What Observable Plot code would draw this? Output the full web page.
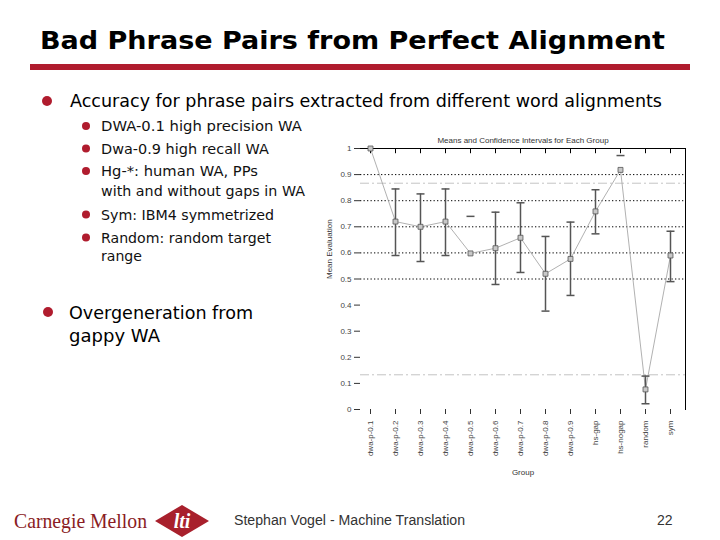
<!DOCTYPE html>
<html>
<head>
<meta charset="utf-8">
<script src="https://cdn.jsdelivr.net/npm/d3@7"></script>
<script src="https://cdn.jsdelivr.net/npm/@observablehq/plot@0.6"></script>
<style>
  html, body { margin: 0; padding: 0; background: #fff; }
  #slide { position: relative; width: 720px; height: 540px; overflow: hidden; background: #fff; }
  #deco { position: absolute; left: 0; top: 0; }
  #chart { position: absolute; left: 320px; top: 125px; }
</style>
</head>
<body>
<div id="slide">
  <svg id="deco" width="720" height="540"></svg>
  <div id="chart"></div>
</div>
<script>
// ---- data ----
const cats = ["dwa-p-0.1","dwa-p-0.2","dwa-p-0.3","dwa-p-0.4","dwa-p-0.5","dwa-p-0.6","dwa-p-0.7","dwa-p-0.8","dwa-p-0.9","hs-gap","hs-nogap","random","sym"];
const means = [1.0, 0.72, 0.70, 0.72, 0.598, 0.618, 0.658, 0.52, 0.577, 0.759, 0.918, 0.077, 0.59];
const hiVals = [null, 0.845, 0.826, 0.845, 0.74, 0.756, 0.792, 0.663, 0.718, 0.842, 0.973, 0.128, 0.683];
const loVals = [null, 0.59, 0.567, 0.59, null, 0.479, 0.525, 0.377, 0.437, 0.673, null, 0.022, 0.49];
const yTicks = [0, 0.1, 0.2, 0.3, 0.4, 0.5, 0.6, 0.7, 0.8, 0.9, 1];
const gridVals = [0.5, 0.6, 0.7, 0.8, 0.9];
const refLines = [0.867, 0.133];
const chartTitle = "Means and Confidence Intervals for Each Group";
const yLabel = "Mean Evaluation";
const xLabel = "Group";

const slideTitle = "Bad Phrase Pairs from Perfect Alignment";
const mainBullets = ["Accuracy for phrase pairs extracted from different word alignments"];
const subBullets = [
  ["DWA-0.1  high precision WA"],
  ["Dwa-0.9 high recall WA"],
  ["Hg-*: human WA, PPs", "with and without gaps in WA"],
  ["Sym: IBM4 symmetrized"],
  ["Random: random target", "range"]
];
const lowerBullet = ["Overgeneration  from", "gappy WA"];
const footerText = "Stephan Vogel - Machine Translation";
const pageNum = "22";

// ---- chart ----
const data = cats.map((c, i) => ({cat: c, mean: means[i], hi: hiVals[i], lo: loVals[i]}));
const fmt = d => (d === 0 ? "0" : d === 1 ? "1" : d.toFixed(1));
// horizontal cap symbol for error bars
const capSymbol = {draw(ctx, size) { const w = Math.sqrt(size / Math.PI); ctx.moveTo(-w, 0); ctx.lineTo(w, 0); }};

const chart = Plot.plot({
  width: 370,
  height: 360,
  marginTop: 23,
  marginBottom: 76,
  marginLeft: 40,
  marginRight: 5,
  style: {fontFamily: "Liberation Sans, Arial, sans-serif", background: "transparent", color: "#333"},
  x: {type: "point", domain: cats, range: [47, 352], padding: 0},
  y: {domain: [0, 1]},
  marks: [
    Plot.ruleY(gridVals, {stroke: "#000", strokeDasharray: "1.3,2.2", strokeWidth: 1}),
    Plot.ruleY(refLines, {stroke: "#c4c4c4", strokeDasharray: "9,3,2,3", strokeWidth: 1}),
    Plot.ruleY([1], {stroke: "#000", strokeWidth: 1}),
    Plot.frame({anchor: "right", stroke: "#000"}),
    Plot.ruleX(cats, {x: d => d, y1: 1, y2: 0.98, stroke: "#000"}),
    Plot.axisY({ticks: yTicks, tickFormat: fmt, tickSize: 6, tickPadding: 3, fontSize: 8, fill: "#444", label: null}),
    Plot.axisX({tickRotate: -90, tickSize: 5, tickPadding: 6, fontSize: 8, fill: "#444", label: null}),
    Plot.line(data, {x: "cat", y: "mean", stroke: "#a8a8a8", strokeWidth: 0.9}),
    Plot.ruleX(data.filter(d => d.lo != null && d.hi != null), {x: "cat", y1: "lo", y2: "hi", stroke: "#555", strokeWidth: 1.5}),
    Plot.dot(data.filter(d => d.hi != null), {x: "cat", y: "hi", symbol: capSymbol, r: 4, stroke: "#555", strokeWidth: 1.5, fill: "none"}),
    Plot.dot(data.filter(d => d.lo != null), {x: "cat", y: "lo", symbol: capSymbol, r: 4, stroke: "#555", strokeWidth: 1.5, fill: "none"}),
    Plot.dot(data, {x: "cat", y: "mean", symbol: "square", r: 2.8, fill: "#c8c8c8", stroke: "#555", strokeWidth: 0.8}),
    Plot.text([chartTitle], {frameAnchor: "top", dy: -11, fontSize: 8, fill: "#333"}),
    Plot.text([yLabel], {frameAnchor: "left", dx: -31, rotate: -90, fontSize: 8, fill: "#333"}),
    Plot.text([xLabel], {frameAnchor: "bottom", dy: 65, fontSize: 8, fill: "#333"})
  ]
});
document.getElementById("chart").appendChild(chart);

// ---- slide decoration (text and logo) ----
const deco = d3.select("#deco");
deco.append("text").attr("x", 40).attr("y", 49)
  .attr("font-family", "DejaVu Sans, sans-serif").attr("font-weight", "bold").attr("font-size", 25)
  .attr("textLength", 625).attr("lengthAdjust", "spacingAndGlyphs").attr("fill", "#000").text(slideTitle);
deco.append("rect").attr("x", 30).attr("y", 64).attr("width", 660).attr("height", 6).attr("fill", "#b01c2e");

const bulletRed = "#b01c2e";
const tf = "DejaVu Sans, Tahoma, sans-serif";
deco.append("circle").attr("cx", 47).attr("cy", 101).attr("r", 5).attr("fill", bulletRed);
deco.append("text").attr("x", 70).attr("y", 107).attr("font-family", tf).attr("font-size", 18)
  .attr("textLength", 592).attr("lengthAdjust", "spacingAndGlyphs").text(mainBullets[0]);

const subLen = {"DWA-0.1  high precision WA": 201, "Dwa-0.9 high recall WA": 168, "Hg-*: human WA, PPs": 157,
  "with and without gaps in WA": 204, "Sym: IBM4 symmetrized": 173, "Random: random target": 170, "range": 41};
const subY = [[131], [153.5], [176, 196], [219.5], [242.5, 261]];
subBullets.forEach((lines, i) => {
  deco.append("circle").attr("cx", 86).attr("cy", subY[i][0] - 5).attr("r", 4).attr("fill", bulletRed);
  lines.forEach((ln, j) => {
    deco.append("text").attr("x", 101).attr("y", subY[i][j]).attr("font-family", tf).attr("font-size", 14.5)
      .attr("fill", "#111").attr("textLength", subLen[ln]).attr("lengthAdjust", "spacingAndGlyphs").text(ln);
  });
});

deco.append("circle").attr("cx", 48).attr("cy", 312).attr("r", 5).attr("fill", bulletRed);
deco.append("text").attr("x", 69).attr("y", 319).attr("font-family", tf).attr("font-size", 18)
  .attr("textLength", 184).attr("lengthAdjust", "spacingAndGlyphs").text(lowerBullet[0]);
deco.append("text").attr("x", 69).attr("y", 342).attr("font-family", tf).attr("font-size", 18)
  .attr("textLength", 91).attr("lengthAdjust", "spacingAndGlyphs").text(lowerBullet[1]);

// footer
deco.append("text").attr("x", 14).attr("y", 528).attr("font-family", "Liberation Serif, serif").attr("font-size", 21)
  .attr("fill", "#8a1c24").attr("textLength", 133).attr("lengthAdjust", "spacingAndGlyphs").text("Carnegie Mellon");
deco.append("polygon").attr("points", "155,521 182,505 209,521 182,537").attr("fill", "#a8202c");
deco.append("text").attr("x", 182).attr("y", 528).attr("text-anchor", "middle").attr("font-family", "Liberation Serif, serif")
  .attr("font-style", "italic").attr("font-weight", "bold").attr("font-size", 20).attr("fill", "#fff").text("lti");
deco.append("text").attr("x", 234).attr("y", 525).attr("font-family", "Liberation Sans, Arial, sans-serif").attr("font-size", 14)
  .attr("fill", "#333").attr("textLength", 231).attr("lengthAdjust", "spacingAndGlyphs").text(footerText);
deco.append("text").attr("x", 657).attr("y", 525).attr("font-family", "Liberation Sans, Arial, sans-serif").attr("font-size", 14)
  .attr("fill", "#333").text(pageNum);
</script>
</body>
</html>
